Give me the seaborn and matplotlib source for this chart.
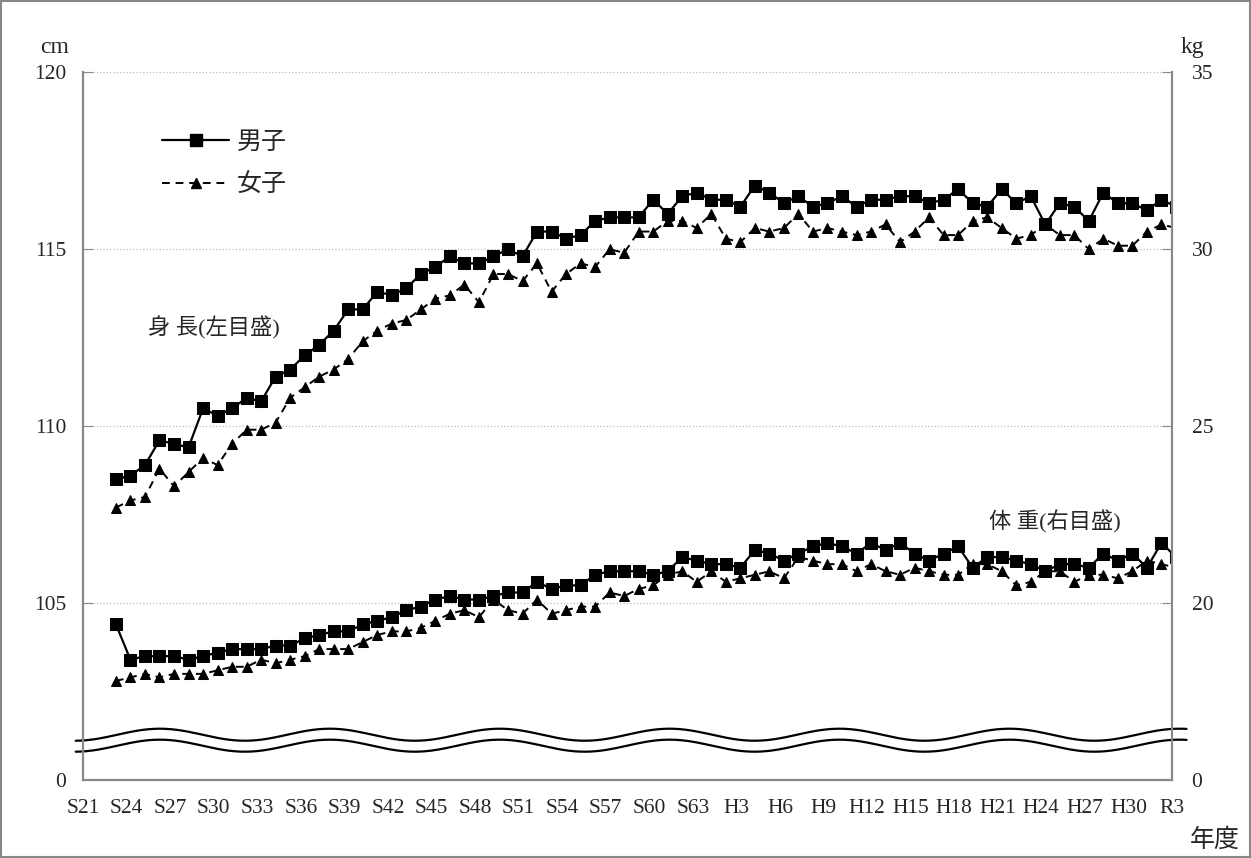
import numpy as np
import pandas as pd

import matplotlib
matplotlib.use('Agg')
import matplotlib.pyplot as plt
import seaborn as sns

# x axis labels every 3 years, S21 (1946) .. R3 (2021)
tick_labels = ["S21", "S24", "S27", "S30", "S33", "S36", "S39", "S42", "S45",
               "S48", "S51", "S54", "S57", "S60", "S63", "H3", "H6", "H9",
               "H12", "H15", "H18", "H21", "H24", "H27", "H30", "R3"]

# survey years S23 (1948) .. R3 (2021)
years = list(range(1948, 2022))

boys_height = [
    108.5, 108.6, 108.9, 109.6, 109.5, 109.4, 110.5, 110.3, 110.5, 110.8,
    110.7, 111.4, 111.6, 112.0, 112.3, 112.7, 113.3, 113.3, 113.8, 113.7,
    113.9, 114.3, 114.5, 114.8, 114.6, 114.6, 114.8, 115.0, 114.8, 115.5,
    115.5, 115.3, 115.4, 115.8, 115.9, 115.9, 115.9, 116.4, 116.0, 116.5,
    116.6, 116.4, 116.4, 116.2, 116.8, 116.6, 116.3, 116.5, 116.2, 116.3,
    116.5, 116.2, 116.4, 116.4, 116.5, 116.5, 116.3, 116.4, 116.7, 116.3,
    116.2, 116.7, 116.3, 116.5, 115.7, 116.3, 116.2, 115.8, 116.6, 116.3,
    116.3, 116.1, 116.4, 116.2]

girls_height = [
    107.7, 107.9, 108.0, 108.8, 108.3, 108.7, 109.1, 108.9, 109.5, 109.9,
    109.9, 110.1, 110.8, 111.1, 111.4, 111.6, 111.9, 112.4, 112.7, 112.9,
    113.0, 113.3, 113.6, 113.7, 114.0, 113.5, 114.3, 114.3, 114.1, 114.6,
    113.8, 114.3, 114.6, 114.5, 115.0, 114.9, 115.5, 115.5, 115.8, 115.8,
    115.6, 116.0, 115.3, 115.2, 115.6, 115.5, 115.6, 116.0, 115.5, 115.6,
    115.5, 115.4, 115.5, 115.7, 115.2, 115.5, 115.9, 115.4, 115.4, 115.8,
    115.9, 115.6, 115.3, 115.4, 115.7, 115.4, 115.4, 115.0, 115.3, 115.1,
    115.1, 115.5, 115.7, 115.6]

boys_weight = [
    19.4, 18.4, 18.5, 18.5, 18.5, 18.4, 18.5, 18.6, 18.7, 18.7,
    18.7, 18.8, 18.8, 19.0, 19.1, 19.2, 19.2, 19.4, 19.5, 19.6,
    19.8, 19.9, 20.1, 20.2, 20.1, 20.1, 20.2, 20.3, 20.3, 20.6,
    20.4, 20.5, 20.5, 20.8, 20.9, 20.9, 20.9, 20.8, 20.9, 21.3,
    21.2, 21.1, 21.1, 21.0, 21.5, 21.4, 21.2, 21.4, 21.6, 21.7,
    21.6, 21.4, 21.7, 21.5, 21.7, 21.4, 21.2, 21.4, 21.6, 21.0,
    21.3, 21.3, 21.2, 21.1, 20.9, 21.1, 21.1, 21.0, 21.4, 21.2,
    21.4, 21.0, 21.7, 21.3]

girls_weight = [
    17.8, 17.9, 18.0, 17.9, 18.0, 18.0, 18.0, 18.1, 18.2, 18.2,
    18.4, 18.3, 18.4, 18.5, 18.7, 18.7, 18.7, 18.9, 19.1, 19.2,
    19.2, 19.3, 19.5, 19.7, 19.8, 19.6, 20.1, 19.8, 19.7, 20.1,
    19.7, 19.8, 19.9, 19.9, 20.3, 20.2, 20.4, 20.5, 20.8, 20.9,
    20.6, 20.9, 20.6, 20.7, 20.8, 20.9, 20.7, 21.3, 21.2, 21.1,
    21.1, 20.9, 21.1, 20.9, 20.8, 21.0, 20.9, 20.8, 20.8, 21.1,
    21.1, 20.9, 20.5, 20.6, 20.9, 20.9, 20.6, 20.8, 20.8, 20.7,
    20.9, 21.2, 21.1, 21.0]

sns.set_style("white")
plt.rcParams['font.family'] = ['Liberation Serif', 'Noto Sans CJK JP']

df = pd.DataFrame({"year": years, "bh": boys_height, "gh": girls_height,
                   "bw": boys_weight, "gw": girls_weight})
# points sit a little right of the year tick in the original
df["x"] = df["year"] + 0.27

fig = plt.figure(figsize=(12.51, 8.58), dpi=100)
ax = fig.add_axes([0.0663, 0.0909, 0.8706, 0.8248])
ax2 = ax.twinx()

boy_kw = dict(color="black", marker="s", markersize=8, linewidth=1.6,
              markeredgecolor="black")
girl_kw = dict(color="black", marker="^", markersize=7.5, linewidth=1.4,
               markeredgecolor="black", linestyle=(0, (4, 3)))

sns.lineplot(data=df, x="x", y="bh", ax=ax, **boy_kw)
sns.lineplot(data=df, x="x", y="gh", ax=ax, **girl_kw)
sns.lineplot(data=df, x="x", y="bw", ax=ax2, **boy_kw)
sns.lineplot(data=df, x="x", y="gw", ax=ax2, **girl_kw)

ax.set_xlim(1946, 2021)
ax.set_ylim(100, 120)
ax2.set_ylim(15, 35)

ax.set_xticks(range(1946, 2022, 3))
ax.set_xticklabels(tick_labels, fontsize=15.5)
ax.set_yticks([100, 105, 110, 115, 120])
ax.set_yticklabels(["0", "105", "110", "115", "120"], fontsize=15.5)
ax2.set_yticks([15, 20, 25, 30, 35])
ax2.set_yticklabels(["0", "20", "25", "30", "35"], fontsize=15.5)

ax.set_xlabel("")
ax.set_ylabel("")
ax2.set_ylabel("")

ax.grid(False)
ax2.grid(False)
for v in [105, 110, 115, 120]:
    ax.axhline(v, color="#bdbdbd", linestyle=":", linewidth=0.9, zorder=0)

for a in (ax, ax2):
    for s in a.spines.values():
        s.set_color("#888888")
        s.set_linewidth(1.5)
    a.spines["top"].set_visible(False)
ax.tick_params(axis="x", direction="in", length=5, color="#888888", pad=14)
ax.tick_params(axis="y", direction="in", length=7, color="#888888", pad=12)
ax2.tick_params(axis="y", direction="in", length=7, color="#888888", pad=14)

# broken-axis wave marks
wx = np.linspace(1945.5, 2022.0, 400)
phase = 2 * np.pi * (wx - 1951.3) / 11.7
for c in (101.28, 100.97):
    ax.plot(wx, c + 0.17 * np.cos(phase), color="black", linewidth=1.6,
            clip_on=False, zorder=5)

ax.text(1950.5, 112.78, "身 長(左目盛)", fontsize=16, va="center")
ax2.text(2008.4, 22.3, "体 重(右目盛)", fontsize=16, va="center")
fig.text(0.044, 0.945, "cm", fontsize=17, ha="center", va="center")
fig.text(0.953, 0.945, "kg", fontsize=17, ha="center", va="center")
fig.text(0.991, 0.021, "年度", fontsize=18, ha="right", va="center")

handles = [plt.Line2D([], [], **boy_kw), plt.Line2D([], [], **girl_kw)]
ax.legend(handles, ["男子", "女子"], loc="upper left",
          bbox_to_anchor=(0.0725, 0.917), frameon=False, fontsize=18,
          handlelength=2.7, labelspacing=0.8, handletextpad=0.3,
          borderaxespad=0, borderpad=0)

fig.patches.append(plt.Rectangle((0.001, 0.001), 0.998, 0.998,
                                 transform=fig.transFigure, fill=False,
                                 edgecolor="#888888", linewidth=1.5))

fig.savefig("out.png", dpi=100)
plt.close()
